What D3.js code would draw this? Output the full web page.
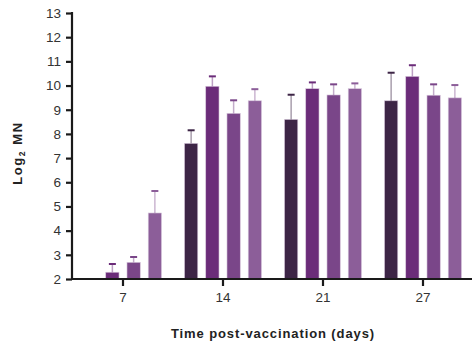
<!DOCTYPE html>
<html>
<head>
<meta charset="utf-8">
<script src="https://cdn.jsdelivr.net/npm/d3@7"></script>
<style>
  body { margin: 0; background: #fff; }
  text { font-family: "Liberation Sans", Arial, sans-serif; }
</style>
</head>
<body>
<div id="chart"></div>
<script>
// data
const days = ["7", "14", "21", "27"];
const groups = ["g1", "g2", "g3", "g4"];
// mean log2 MN per group (null = no bar)
const g1Values = [null, 7.61, 8.60, 9.37];
const g2Values = [2.28, 9.97, 9.87, 10.38];
const g3Values = [2.69, 8.85, 9.61, 9.60];
const g4Values = [4.73, 9.37, 9.87, 9.49];
// upper error bar ends
const g1Err = [null, 8.15, 9.62, 10.53];
const g2Err = [2.62, 10.38, 10.13, 10.84];
const g3Err = [2.91, 9.39, 10.05, 10.05];
const g4Err = [5.64, 9.85, 10.09, 10.02];
const yTicks = [2, 3, 4, 5, 6, 7, 8, 9, 10, 11, 12, 13];

const colors = ["#3d2546", "#6b2c79", "#7a4689", "#8c5e99"];

const svgWidth = 472;
const svgHeight = 352;

const svg = d3.select("#chart")
    .append("svg")
    .attr("width", svgWidth)
    .attr("height", svgHeight);

const allValues = [g1Values, g2Values, g3Values, g4Values];
const allErr = [g1Err, g2Err, g3Err, g4Err];

const rows = [];
days.forEach((day, i) => {
    groups.forEach((g, j) => {
        if (allValues[j][i] != null) {
            rows.push({ day: day, group: g, idx: j, value: allValues[j][i], err: allErr[j][i] });
        }
    });
});

// scales
const x = d3.scaleBand()
    .domain(days)
    .range([73, 473]);

const xSub = d3.scaleBand()
    .domain(groups)
    .range([11.5, 88.5])
    .paddingInner(0.375);

const y = d3.scaleLinear()
    .domain([2, 13])
    .range([279, 13]);

// bars
svg.append("g")
    .selectAll("rect")
    .data(rows)
    .join("rect")
    .attr("x", d => x(d.day) + xSub(d.group))
    .attr("y", d => y(d.value))
    .attr("width", xSub.bandwidth())
    .attr("height", d => y(2) - y(d.value))
    .attr("fill", d => colors[d.idx])
    .attr("stroke", "#d8c8dc")
    .attr("stroke-width", 0.6);

// error bars
const err = svg.append("g");
err.selectAll("line.stem")
    .data(rows)
    .join("line")
    .attr("class", "stem")
    .attr("x1", d => x(d.day) + xSub(d.group) + xSub.bandwidth() / 2)
    .attr("x2", d => x(d.day) + xSub(d.group) + xSub.bandwidth() / 2)
    .attr("y1", d => y(d.value))
    .attr("y2", d => y(d.err))
    .attr("stroke", d => colors[d.idx])
    .attr("stroke-opacity", 0.45)
    .attr("stroke-width", 1.5);

err.selectAll("line.cap")
    .data(rows)
    .join("line")
    .attr("class", "cap")
    .attr("x1", d => x(d.day) + xSub(d.group) + xSub.bandwidth() / 2 - 3.5)
    .attr("x2", d => x(d.day) + xSub(d.group) + xSub.bandwidth() / 2 + 3.5)
    .attr("y1", d => y(d.err))
    .attr("y2", d => y(d.err))
    .attr("stroke", d => colors[d.idx])
    .attr("stroke-width", 2);

// axes
const leftAxis = d3.axisLeft(y).tickValues(yTicks).tickSize(6).tickPadding(5).tickSizeOuter(0);
const bottomAxis = d3.axisBottom(x).tickSize(7).tickPadding(6).tickSizeOuter(0);

const yAxis = svg.append("g")
    .attr("transform", "translate(72,0)")
    .call(leftAxis);

const xAxis = svg.append("g")
    .attr("transform", "translate(0,279)")
    .call(bottomAxis);

[yAxis, xAxis].forEach(a => {
    a.select(".domain").attr("stroke", "#1a1a1a").attr("stroke-width", 2.2);
    a.selectAll(".tick line").attr("stroke", "#1a1a1a").attr("stroke-width", 2.2);
    a.selectAll(".tick text")
        .attr("font-family", "Liberation Sans, Arial, sans-serif")
        .attr("font-size", 13.5)
        .attr("fill", "#333");
});
xAxis.select(".domain").attr("d", "M72,0H473");
yAxis.select(".domain").attr("d", "M0,12V280");

// axis labels
const yLabel = svg.append("text")
    .attr("transform", "translate(21.5,153) rotate(-90)")
    .attr("text-anchor", "middle")
    .attr("font-size", 13)
    .attr("font-weight", "bold")
    .attr("letter-spacing", 1.6)
    .attr("fill", "#222");
yLabel.append("tspan").text("Log");
yLabel.append("tspan").attr("font-size", 8.5).attr("dy", 3).text("2");
yLabel.append("tspan").attr("dy", -3).text(" MN");

svg.append("text")
    .attr("x", 273)
    .attr("y", 338)
    .attr("text-anchor", "middle")
    .attr("font-size", 13)
    .attr("font-weight", "bold")
    .attr("letter-spacing", 0.9)
    .attr("fill", "#222")
    .text("Time post-vaccination (days)");
</script>
</body>
</html>
